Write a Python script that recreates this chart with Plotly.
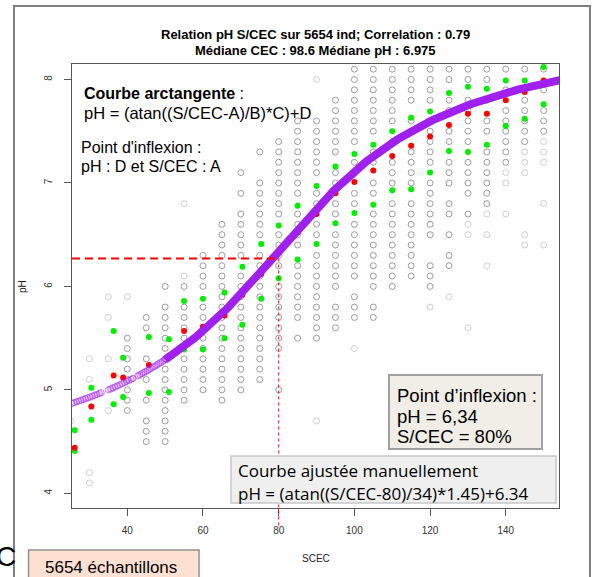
import plotly.graph_objects as go
import numpy as np

# ---------------- data ----------------
# grey open circles: (S/CEC column, list of pH values)
gray_dark = [
    (40, [5.5, 5.4, 5.3, 5.2, 5.1, 5.0, 4.9, 4.8]),
    (45, [5.7, 5.6, 5.3, 5.1, 4.9, 4.7, 4.6, 4.5]),
    (50, [6.0, 5.8, 5.7, 5.6, 5.5, 5.4, 5.3, 5.2, 5.1, 5.0, 4.9, 4.8, 4.7, 4.6, 4.5]),
    (55, [6.0, 5.8, 5.7, 5.6, 5.5, 5.3, 5.2, 5.1, 5.0, 4.9]),
    (60, [6.3, 6.2, 6.1, 6.0, 5.8, 5.7, 5.6, 5.5, 5.4, 5.3, 5.2, 5.1, 5.0]),
    (65, [6.6, 6.5, 6.4, 6.3, 6.2, 6.1, 6.0, 5.9, 5.8, 5.7, 5.6, 5.5, 5.4, 5.3, 5.2, 5.1, 5.0, 4.9]),
    (70, [7.1, 6.9, 6.7, 6.6, 6.5, 6.4, 6.3, 6.1, 6.0, 5.9, 5.8, 5.7, 5.6, 5.5, 5.4, 5.3, 5.2, 5.1, 5.0]),
    (75, [7.3, 7.0, 6.9, 6.8, 6.7, 6.6, 6.5, 6.3, 6.2, 6.1, 6.0, 5.9, 5.8, 5.7, 5.6, 5.5, 5.4, 5.3, 5.2, 5.1]),
    (80, [7.4, 7.3, 7.2, 7.1, 7.0, 6.9, 6.8, 6.7, 6.5, 6.4, 6.3, 6.2, 6.0, 5.9, 5.8, 5.7, 5.6, 5.5, 5.4, 5.0]),
    (85, [7.6, 7.5, 7.4, 7.3, 7.2, 7.1, 7.0, 6.9, 6.7, 6.6, 6.5, 6.4, 6.2, 6.1, 6.0, 5.9, 5.8, 5.7, 5.5]),
    (90, [7.6, 7.5, 7.4, 7.3, 7.2, 7.1, 6.9, 6.8, 6.6, 6.5, 6.3, 6.2, 6.1, 6.0, 5.9, 5.8, 5.7, 5.6, 5.5]),
    (95, [7.8, 7.7, 7.6, 7.5, 7.4, 7.3, 7.1, 7.0, 6.8, 6.7, 6.5, 6.4, 6.3, 6.2, 6.1, 6.0, 5.8, 5.7, 5.6]),
    (100, [8.1, 8.0, 7.9, 7.8, 7.7, 7.6, 7.5, 7.4, 7.2, 7.1, 6.9, 6.8, 6.6, 6.5, 6.4, 6.3, 6.2, 6.1, 5.9, 5.8, 5.7]),
    (105, [8.1, 8.0, 7.9, 7.8, 7.7, 7.6, 7.5, 7.3, 7.2, 7.0, 6.9, 6.7, 6.6, 6.5, 6.4, 6.3, 6.2, 6.1, 6.0, 5.8, 5.7]),
    (110, [8.1, 8.0, 7.9, 7.8, 7.7, 7.6, 7.4, 7.2, 7.1, 7.0, 6.8, 6.7, 6.6, 6.5, 6.4, 6.3, 6.2, 6.1, 6.0]),
    (115, [8.1, 8.0, 7.9, 7.8, 7.6, 7.5, 7.3, 7.2, 7.1, 7.0, 6.8, 6.7, 6.6, 6.5, 6.4, 6.3, 6.2, 6.1]),
    (120, [8.1, 8.0, 7.9, 7.8, 7.6, 7.5, 7.4, 7.3, 7.2, 7.0, 6.9, 6.8, 6.7, 6.6, 6.5, 6.2, 6.1, 6.0]),
    (125, [8.1, 8.0, 7.8, 7.7, 7.5, 7.4, 7.2, 7.1, 7.0, 6.8, 6.7, 6.5, 6.3, 6.2]),
    (130, [8.1, 8.0, 7.8, 7.7, 7.6, 7.5, 7.4, 7.2, 7.1, 7.0, 6.9, 6.7]),
    (135, [8.1, 8.0, 7.8, 7.6, 7.5, 7.3, 7.2, 7.1, 7.0, 6.9, 6.8]),
    (140, [8.1, 7.9, 7.7, 7.6, 7.5, 7.4, 7.3, 7.2]),
    (145, [8.1, 7.8, 7.7, 7.6, 7.5, 7.4]),
    (150, [8.1, 7.9, 7.7, 7.6, 7.5]),
]
gray_light = [
    (25, [4.7]),
    (30, [5.3, 5.1, 4.2, 4.1]),
    (35, [5.9, 5.7, 5.3, 4.8]),
    (40, [5.9]),
    (55, [6.8, 6.1]),
    (90, [8.0, 4.7]),
    (100, [5.4]),
    (120, [5.8]),
    (125, [5.9]),
    (130, [6.6, 6.5, 5.6]),
    (135, [6.7, 6.5, 6.2]),
    (140, [7.1, 7.0, 6.7]),
    (145, [7.3, 7.2, 7.1, 6.5, 6.4]),
    (150, [7.4, 7.3, 7.2, 6.8, 6.4]),
    (155, [7.7, 7.6, 7.1, 6.3]),
]

# class summaries: x position, upper (green), median (red), lower (green)
class_x = [26.1, 30.5, 36.4, 38.9, 45.7, 51.0, 55.0, 60.0, 65.7, 70.4, 75.4, 80.0, 85.0,
           90, 95, 100, 105, 110, 115, 120, 125, 130, 135, 140, 145, 150, 155]
green_hi = [4.61, 5.02, 5.57, 5.31, 5.51, 5.49, 5.86, 5.88, 5.94, 6.19, 6.41, 6.59, 6.78,
            6.97, 7.16, 7.28, 7.37, 7.50, 7.63, 7.69, 7.87, 7.93, 7.91, 7.99, 7.99, 8.12, 8.10]
red_med = [4.44, 4.84, 5.14, 5.12, 5.24, 5.33, 5.57, 5.61, 5.72, 5.92, 6.12, 6.33, 6.52,
           6.70, 6.90, 7.01, 7.12, 7.26, 7.36, 7.45, 7.56, 7.67, 7.67, 7.80, 7.88, 7.99, 7.98]
green_lo = [4.41, 4.71, 4.86, 4.93, 4.97, 4.98, 5.39, 5.39, 5.50, 5.63, 5.88, 6.08, 6.26,
            6.41, 6.61, 6.71, 6.79, 6.93, 6.94, 7.10, 7.31, 7.30, 7.37, 7.55, 7.62, 7.76, 7.79]

# fitted arctangent curve (as written on the chart)
A, B, C, D = 80, 34, 1.45, 6.34
fit_points_x = [25.4, 26.0, 26.6, 27.2, 27.8, 28.4, 29.0, 29.6, 30.2, 30.8, 31.4, 32.0, 32.6, 33.1,
                35.0, 35.6, 36.2, 36.8, 37.4, 38.0, 38.6, 39.2, 39.8, 40.4, 41.0, 41.5,
                42.8, 43.3, 43.8, 44.3, 44.8, 45.3, 45.8, 46.3, 46.8, 47.3, 47.8, 48.3,
                48.8, 49.3, 49.8, 50.3, 50.8, 51.3, 51.8, 52.3]
infl_ph = 6.27
infl_scec = 80

x_ticks = [40, 60, 80, 100, 120, 140]
y_ticks = [4, 5, 6, 7, 8]

# ---------------- figure ----------------
W, H = 595, 577
L, R, T, Bm = 72, 36, 64, 69
PW, PH = W - L - R, H - T - Bm


def px(x):
    return (x - L) / PW


def py(y):
    return (H - Bm - y) / PH


def flatten(cols):
    xs, ys = [], []
    for c, vals in cols:
        for v in vals:
            xs.append(c)
            ys.append(v)
    return xs, ys


fig = go.Figure()

lx, ly = flatten(gray_light)
fig.add_trace(go.Scatter(x=lx, y=ly, mode="markers",
                         marker=dict(symbol="circle-open", size=6,
                                     color="rgba(150,150,150,0.45)", line=dict(width=1)),
                         hoverinfo="skip"))
dx, dy = flatten(gray_dark)
fig.add_trace(go.Scatter(x=dx, y=dy, mode="markers",
                         marker=dict(symbol="circle-open", size=6,
                                     color="rgba(115,115,115,0.7)", line=dict(width=1)),
                         hoverinfo="skip"))

fig.add_trace(go.Scatter(x=class_x, y=green_hi, mode="markers",
                         marker=dict(size=6, color="#00ee00"), hoverinfo="skip"))
fig.add_trace(go.Scatter(x=class_x, y=green_lo, mode="markers",
                         marker=dict(size=6, color="#00ee00"), hoverinfo="skip"))
fig.add_trace(go.Scatter(x=class_x, y=red_med, mode="markers",
                         marker=dict(size=6, color="#ff0000"), hoverinfo="skip"))

fpx = np.array(fit_points_x)
fig.add_trace(go.Scatter(x=fpx, y=np.arctan((fpx - A) / B) * C + D, mode="markers",
                         marker=dict(symbol="circle-open", size=6,
                                     color="rgba(160,32,240,0.55)", line=dict(width=1.2)),
                         hoverinfo="skip"))
cx = np.linspace(50, 157, 300)
fig.add_trace(go.Scatter(x=cx, y=np.arctan((cx - A) / B) * C + D, mode="lines",
                         line=dict(color="#A020F0", width=8), hoverinfo="skip"))

shapes = []
# red dashed inflexion lines
shapes.append(dict(type="line", xref="x", yref="y", x0=25.4, x1=infl_scec, y0=infl_ph, y1=infl_ph,
                   line=dict(color="#ff0000", width=2.2, dash="8px,5px")))
shapes.append(dict(type="line", xref="x", yref="paper", x0=infl_scec, x1=infl_scec,
                   y0=py(79.5 + (8 - infl_ph) * 103.45), y1=py(526),
                   line=dict(color="#ff0000", width=1, dash="3px,3px")))
# outer frame
shapes.append(dict(type="rect", xref="paper", yref="paper", x0=px(14), x1=px(590), y0=py(6), y1=py(610),
                   line=dict(color="#808080", width=2), fillcolor="rgba(0,0,0,0)"))
# boxes
shapes.append(dict(type="rect", xref="paper", yref="paper", x0=px(389), x1=px(542), y0=py(375), y1=py(449),
                   line=dict(color="#a0a0a0", width=2), fillcolor="#f1ede7"))
shapes.append(dict(type="rect", xref="paper", yref="paper", x0=px(231), x1=px(556), y0=py(456), y1=py(503),
                   line=dict(color="#c8c8c8", width=1.5), fillcolor="#efefef"))
shapes.append(dict(type="rect", xref="paper", yref="paper", x0=px(28.5), x1=px(199), y0=py(550), y1=py(600),
                   line=dict(color="#909090", width=1.5), fillcolor="#fde0d2"))

ann = []


def text(x, y, s, size, anchor="left", family="Liberation Sans, Arial, sans-serif", color="#000"):
    ann.append(dict(xref="paper", yref="paper", x=px(x), y=py(y), text=s, showarrow=False,
                    xanchor=anchor, yanchor="middle", font=dict(size=size, family=family, color=color)))


text(315, 35, "<b>Relation pH S/CEC sur 5654 ind; Correlation : 0.79</b>", 13, "center")
text(315, 50, "<b>Médiane CEC : 98.6 Médiane pH : 6.975</b>", 13, "center")
text(82, 93, "<b>Courbe arctangente</b> :", 16)
text(82, 113, "pH = (atan((S/CEC-A)/B)*C)+D", 16.5)
text(79, 147, "Point d'inflexion :", 16)
text(79, 166, "pH : D et S/CEC : A", 16)
text(395, 395, "Point d’inflexion :", 18.5)
text(395, 416, "pH = 6,34", 18.5)
text(395, 436, "S/CEC = 80%", 18.5)
text(236, 470, "Courbe ajustée manuellement", 17, family="Open Sans, DejaVu Sans, sans-serif")
text(236, 493, "pH = (atan((S/CEC-80)/34)*1.45)+6.34", 17, family="Open Sans, DejaVu Sans, sans-serif")
text(43, 567, "5654 échantillons", 17)
text(-6, 556, "C", 28)
text(316, 558, "SCEC", 10, "center", color="#222")
ann.append(dict(xref="paper", yref="paper", x=px(22), y=py(287), text="pH", showarrow=False,
                textangle=-90, xanchor="center", yanchor="middle",
                font=dict(size=10, family="Liberation Sans, Arial, sans-serif", color="#222")))

fig.update_layout(
    width=W, height=H, margin=dict(l=L, r=R, t=T, b=Bm),
    paper_bgcolor="white", plot_bgcolor="white", showlegend=False,
    shapes=shapes, annotations=ann,
    font=dict(family="Liberation Sans, Arial, sans-serif"),
)
fig.update_xaxes(range=[25.39, 154.06], tickvals=x_ticks, ticks="outside", ticklen=7, tickcolor="#555",
                 showline=True, mirror=True, linecolor="#555", linewidth=1, showgrid=False, zeroline=False,
                 tickfont=dict(size=10, color="#333"), ticklabelstandoff=6)
fig.update_yaxes(range=[3.858, 8.150], tickvals=y_ticks, ticks="outside", ticklen=7, tickcolor="#555",
                 showline=True, mirror=True, linecolor="#555", linewidth=1, showgrid=False, zeroline=False,
                 tickangle=-90, tickfont=dict(size=10, color="#333"), ticklabelstandoff=8)

fig.write_html("out.html", config={"displayModeBar": False},
               post_script="document.body.style.margin='0';document.body.style.overflow='hidden';")
